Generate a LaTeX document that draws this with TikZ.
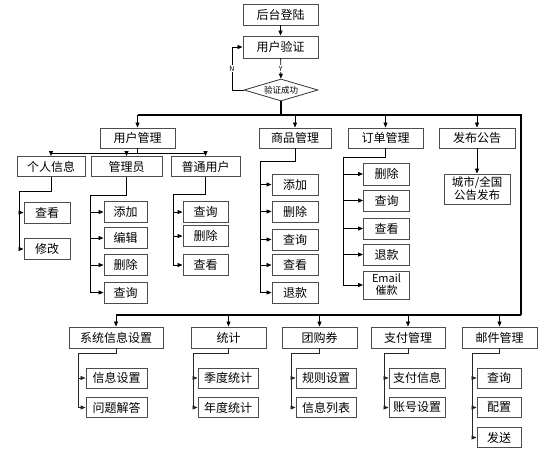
\documentclass[tikz,border=0pt]{standalone}
\usepackage{fontspec}
\setmainfont{Noto Sans CJK SC}
\usepackage{tikz}
\usetikzlibrary{shapes.geometric}
\usetikzlibrary{arrows.meta}

\tikzset{
  box/.style={draw=black!70, line width=0.9pt, fill=white, minimum height=21pt, inner sep=1pt, font=\fontsize{12}{13}\selectfont},
  arr/.style={-{Triangle[length=5pt,width=4pt]}, line width=0.8pt},
  thin arr/.style={-{Triangle[length=5pt,width=4pt]}, line width=0.6pt, black!85},
  bus/.style={line width=1.4pt},
  lab/.style={fill=white, inner sep=0.5pt, font=\fontsize{7}{8}\selectfont}
}

\begin{document}
\begin{tikzpicture}[x=1pt, y=-1pt]
\useasboundingbox (0,0) rectangle (556,448);

\node[box, minimum width=75pt] (login) at (280.5,14.5) {后台登陆};
\node[box, minimum width=75pt, minimum height=22pt] (verify) at (280.5,47) {用户验证};
\node[diamond, draw=black!80, line width=0.8pt, minimum width=74pt, minimum height=22pt, inner sep=0pt, aspect=3.3, font=\fontsize{8.5}{9}\selectfont] (chk) at (281,90) {验证成功};
\coordinate (nloop) at (232,90);
\draw[arr] (login) -- (verify);
\draw[arr] (verify) -- node[lab]{Y} (chk);
\draw[arr] (chk.west) -- (nloop) |- node[lab, pos=0.25]{N} (verify.west);

\node[box, minimum width=75pt, minimum height=20pt] (um) at (137.5,138) {用户管理};
\node[box, minimum width=72pt, minimum height=20pt] (gm) at (295,138) {商品管理};
\node[box, minimum width=75pt, minimum height=20pt] (om) at (385.5,138) {订单管理};
\node[box, minimum width=76pt, minimum height=20pt] (pub) at (477,138) {发布公告};

\coordinate (bus1) at (281,115);
\coordinate (bus2) at (521,315);
\draw[bus] (chk.south) -- (bus1);
\draw[bus] (um.north |- bus1) -| (bus2);
\draw[arr] (bus1) -| (um.north);
\draw[arr] (bus1) -| (gm.north);
\draw[arr] (bus1) -| (om.north);
\draw[arr] (bus1) -| (pub.north);

\node[box, minimum width=68pt, minimum height=20pt] (per) at (51,166.5) {个人信息};
\node[box, minimum width=71pt, minimum height=20pt] (adm) at (126.5,166.5) {管理员};
\node[box, minimum width=69pt, minimum height=20pt] (usr) at (205.5,166.5) {普通用户};
\coordinate (umbus) at (137.5,153);
\draw[arr] (um.south) -- (umbus) -| (per.north);
\draw[arr] (umbus) -| (adm.north);
\draw[arr] (umbus) -| (usr.north);

\node[box, minimum width=46pt] (perview) at (47,212.5) {查看};
\node[box, minimum width=46pt] (peredit) at (47,249) {修改};
\coordinate (pertr) at (19,191);
\draw[arr] (per.south) |- (pertr) |- (perview.west);
\draw[arr] (pertr) |- (peredit.west);

\node[box, minimum width=43pt] (admadd) at (125.5,212) {添加};
\node[box, minimum width=43pt] (admedit) at (125.5,238) {编辑};
\node[box, minimum width=43pt] (admdel) at (125.5,265) {删除};
\node[box, minimum width=43pt] (admqry) at (125.5,292.5) {查询};
\coordinate (admtr) at (90,195);
\draw[arr] (adm.south) |- (admtr) |- (admadd.west);
\draw[arr] (admtr) |- (admedit.west);
\draw[arr] (admtr) |- (admdel.west);
\draw[arr] (admtr) |- (admqry.west);

\node[box, minimum width=45pt] (usrqry) at (205.5,212) {查询};
\node[box, minimum width=45pt] (usrdel) at (205.5,236) {删除};
\node[box, minimum width=45pt] (usrview) at (205.5,265) {查看};
\coordinate (usrtr) at (173,194);
\draw[arr] (usr.south) |- (usrtr) |- (usrqry.west);
\draw[arr] (usrtr) |- (usrdel.west);
\draw[arr] (usrtr) |- (usrview.west);

\node[box, minimum width=46pt] (gmadd) at (295,184.5) {添加};
\node[box, minimum width=46pt] (gmdel) at (295,211.5) {删除};
\node[box, minimum width=46pt] (gmqry) at (295,239.5) {查询};
\node[box, minimum width=46pt] (gmview) at (295,265) {查看};
\node[box, minimum width=46pt] (gmref) at (295,292.5) {退款};
\coordinate (gmtr) at (260,161);
\draw[arr] (gm.south) |- (gmtr) |- (gmadd.west);
\draw[arr] (gmtr) |- (gmdel.west);
\draw[arr] (gmtr) |- (gmqry.west);
\draw[arr] (gmtr) |- (gmview.west);
\draw[arr] (gmtr) |- (gmref.west);

\node[box, minimum width=46pt, minimum height=22pt] (omdel) at (386.5,174) {删除};
\node[box, minimum width=46pt] (omqry) at (386.5,200.5) {查询};
\node[box, minimum width=46pt] (omview) at (386.5,228.5) {查看};
\node[box, minimum width=46pt] (omref) at (386.5,254.5) {退款};
\node[box, minimum width=46pt, minimum height=28pt, align=center, font=\fontsize{11}{12}\selectfont] (omdun) at (386.5,285) {Email\\催款};
\coordinate (omtr) at (343,157);
\draw[arr] (om.south) |- (omtr) |- (omdel.west);
\draw[arr] (omtr) |- (omqry.west);
\draw[arr] (omtr) |- (omview.west);
\draw[arr] (omtr) |- (omref.west);
\draw[arr] (omtr) |- (omdun.west);

\node[box, minimum width=66pt, minimum height=30pt, align=center, font=\fontsize{11.5}{13}\selectfont] (city) at (477,189) {城市/全国\\公告发布};
\draw[arr] (pub) -- (city);

\node[box, minimum width=94pt] (sys) at (116,337.5) {系统信息设置};
\node[box, minimum width=75pt] (stat) at (228.5,337.5) {统计};
\node[box, minimum width=75pt] (grp) at (319.5,337.5) {团购券};
\node[box, minimum width=74pt] (pay) at (408,337.5) {支付管理};
\node[box, minimum width=75pt] (mail) at (499.5,337.5) {邮件管理};
\draw[bus] (sys.north |- bus2) -- (bus2);
\draw[arr] (bus2) -| (sys.north);
\draw[arr] (bus2) -| (stat.north);
\draw[arr] (bus2) -| (grp.north);
\draw[arr] (bus2) -| (pay.north);
\draw[arr] (bus2) -| (mail.north);

\node[box, minimum width=61pt, minimum height=20pt] (sysinfo) at (116.5,378) {信息设置};
\node[box, minimum width=61pt, minimum height=20pt] (sysfaq) at (116.5,407.5) {问题解答};
\coordinate (systr) at (78,353);
\draw[thin arr] (sys.south) |- (systr) |- (sysinfo.west);
\draw[thin arr] (systr) |- (sysfaq.west);

\node[box, minimum width=60pt, minimum height=20pt] (statq) at (228,378) {季度统计};
\node[box, minimum width=60pt, minimum height=20pt] (staty) at (228,407.5) {年度统计};
\coordinate (stattr) at (193,353);
\draw[thin arr] (stat.south) |- (stattr) |- (statq.west);
\draw[thin arr] (stattr) |- (staty.west);

\node[box, minimum width=60pt, minimum height=20pt] (grprule) at (326,378) {规则设置};
\node[box, minimum width=60pt, minimum height=20pt] (grplist) at (326,407.5) {信息列表};
\coordinate (grptr) at (291,353);
\draw[thin arr] (grp.south) |- (grptr) |- (grprule.west);
\draw[thin arr] (grptr) |- (grplist.west);

\node[box, minimum width=56pt, minimum height=20pt] (payinfo) at (417,378) {支付信息};
\node[box, minimum width=56pt, minimum height=20pt] (payacc) at (417,407.5) {账号设置};
\coordinate (paytr) at (384,353);
\draw[thin arr] (pay.south) |- (paytr) |- (payinfo.west);
\draw[thin arr] (paytr) |- (payacc.west);

\node[box, minimum width=44pt, minimum height=20pt] (mailqry) at (499,378) {查询};
\node[box, minimum width=44pt, minimum height=20pt] (mailcfg) at (499,407.5) {配置};
\node[box, minimum width=44pt, minimum height=20pt] (mailsend) at (499,437.5) {发送};
\coordinate (mailtr) at (472,353);
\draw[thin arr] (mail.south) |- (mailtr) |- (mailqry.west);
\draw[thin arr] (mailtr) |- (mailcfg.west);
\draw[thin arr] (mailtr) |- (mailsend.west);
\end{tikzpicture}
\end{document}
